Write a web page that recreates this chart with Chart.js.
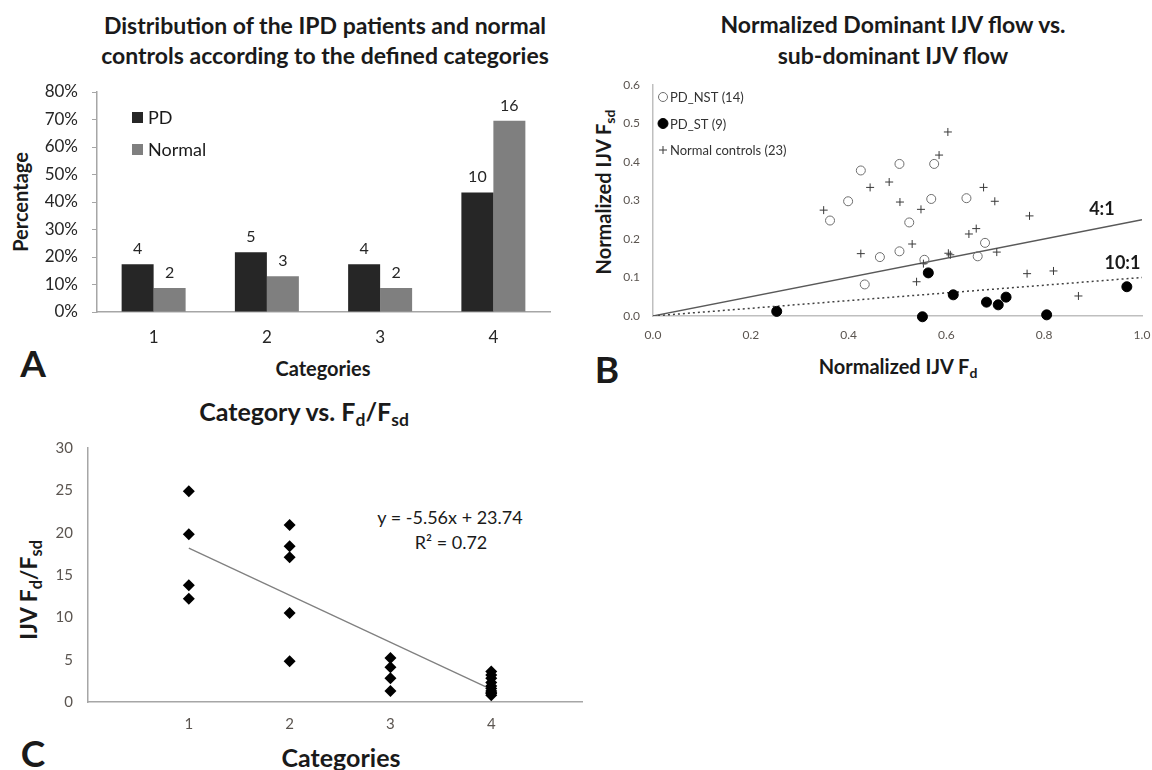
<!DOCTYPE html>
<html>
<head>
<meta charset="utf-8">
<script src="https://cdn.jsdelivr.net/npm/chart.js@4.4.1/dist/chart.umd.min.js"></script>
<style>
  body { margin: 0; background: #fff; width: 1152px; height: 770px; position: relative; overflow: hidden; font-family: Lato, sans-serif; color: #1a1a1a; }
  canvas { position: absolute; }
  .t { position: absolute; transform: translate(-50%, -50%); white-space: nowrap; line-height: 1; }
  .r { transform: translate(-50%, -50%) rotate(-90deg); }
  .b { font-weight: bold; }
  sub { font-size: 0.7em; vertical-align: -0.32em; line-height: 0; }
</style>
</head>
<body>

<!-- panel A -->
<div class="t b" style="left:325px;top:25px;font-size:23px">Distribution of the IPD patients and normal</div>
<div class="t b" style="left:325px;top:55px;font-size:23px">controls according to the defined categories</div>
<div class="t b r" style="left:20px;top:202px;font-size:20px">Percentage</div>
<div class="t b" style="left:323px;top:368px;font-size:20px">Categories</div>
<div class="t b" style="left:33px;top:362px;font-size:37px">A</div>
<canvas id="chartA" width="580" height="280" style="left:0;top:80px"></canvas>

<!-- panel B -->
<div class="t b" style="left:893px;top:24px;font-size:23px">Normalized Dominant IJV flow vs.</div>
<div class="t b" style="left:893px;top:55px;font-size:23px">sub-dominant IJV flow</div>
<div class="t b r" style="left:603px;top:192px;font-size:20px">Normalized IJV F<sub>sd</sub></div>
<div class="t b" style="left:898px;top:366px;font-size:20px">Normalized IJV F<sub>d</sub></div>
<div class="t b" style="left:607px;top:368px;font-size:37px">B</div>
<canvas id="chartB" width="562" height="300" style="left:590px;top:70px"></canvas>

<!-- panel C -->
<div class="t b" style="left:304px;top:411px;font-size:25px">Category vs. F<sub>d</sub>/F<sub>sd</sub></div>
<div class="t b r" style="left:28px;top:590px;font-size:23px">IJV F<sub>d</sub>/F<sub>sd</sub></div>
<div class="t b" style="left:341px;top:757px;font-size:25px">Categories</div>
<div class="t b" style="left:33px;top:752px;font-size:37px">C</div>
<div class="t" id="trendEq" style="left:450px;top:517px;font-size:18px"></div>
<div class="t" id="trendR2" style="left:451px;top:542px;font-size:18px"></div>
<canvas id="chartC" width="620" height="310" style="left:0;top:430px"></canvas>

<script>
// --- A: patients per category (counts shown over bars, bars in percent of group)
const categories = ["1", "2", "3", "4"];
const pdCounts = [4, 5, 4, 10];
const normalCounts = [2, 3, 2, 16];
const pdTotal = 23;
const normalTotal = 23;

// --- B: normalized dominant vs sub-dominant flow
const nstX = [0.425, 0.504, 0.575, 0.399, 0.362, 0.569, 0.641, 0.524, 0.679, 0.464, 0.504, 0.555, 0.664, 0.433];
const nstY = [0.378, 0.395, 0.395, 0.298, 0.248, 0.304, 0.306, 0.243, 0.190, 0.153, 0.168, 0.146, 0.155, 0.082];
const stX = [0.253, 0.551, 0.563, 0.614, 0.682, 0.706, 0.722, 0.805, 0.969];
const stY = [0.012, -0.002, 0.112, 0.055, 0.036, 0.029, 0.049, 0.003, 0.076];
const ctlX = [0.603, 0.585, 0.444, 0.483, 0.505, 0.349, 0.548, 0.676, 0.699, 0.770, 0.646, 0.661, 0.530, 0.425, 0.604, 0.608, 0.703, 0.553, 0.539, 0.765, 0.819, 0.870];
const ctlY = [0.478, 0.418, 0.334, 0.348, 0.296, 0.275, 0.277, 0.334, 0.298, 0.260, 0.213, 0.227, 0.187, 0.162, 0.163, 0.159, 0.166, 0.136, 0.089, 0.110, 0.117, 0.052];
const ratios = [4, 10]; // Fd:Fsd reference lines

// --- C: Fd/Fsd per category with linear fit
const catX = [1, 1, 1, 1, 2, 2, 2, 2, 2, 3, 3, 3, 3, 4, 4, 4, 4, 4, 4, 4, 4, 4, 4];
const ratioY = [24.9, 19.8, 13.8, 12.2, 20.9, 18.4, 17.1, 10.5, 4.8, 5.2, 4.1, 2.8, 1.3, 3.6, 3.2, 2.8, 2.3, 1.9, 1.6, 1.3, 1.1, 1.0, 0.8];
const trendSlope = -5.56;
const trendIntercept = 23.74;
const trendR2 = 0.72;
const trendRange = [1, 4];

const FONT = "Lato";
const zip = (xs, ys) => xs.map((x, i) => ({ x: x, y: ys[i] }));

// fixed axis box sizes, no label overflow padding
const fixW = w => s => { s.width = w; s.paddingTop = 0; s.paddingBottom = 0; };
const fixH = h => s => { s.height = h; s.paddingLeft = 0; s.paddingRight = 0; };

// ---------------- chart A ----------------
const countLabels = {
  id: "countLabels",
  afterDatasetsDraw(chart) {
    const ctx = chart.ctx;
    ctx.save();
    ctx.font = "16px " + FONT;
    ctx.fillStyle = "#262626";
    ctx.textAlign = "center";
    ctx.textBaseline = "alphabetic";
    chart.data.datasets.forEach((ds, i) => {
      chart.getDatasetMeta(i).data.forEach((bar, j) => {
        ctx.fillText(ds.counts[j], bar.x, bar.y - 10);
      });
    });
    ctx.restore();
  }
};

const boxLegend = {
  id: "boxLegend",
  afterDraw(chart) {
    const ctx = chart.ctx;
    const a = chart.chartArea;
    ctx.save();
    ctx.font = "18px " + FONT;
    ctx.textBaseline = "middle";
    chart.data.datasets.forEach((ds, i) => {
      const y = a.top + 20 + i * 32;
      ctx.fillStyle = ds.backgroundColor;
      ctx.fillRect(a.left + 35, y, 11, 11);
      ctx.fillStyle = "#1a1a1a";
      ctx.fillText(ds.label, a.left + 51, y + 6);
    });
    ctx.restore();
  }
};

new Chart(document.getElementById("chartA"), {
  type: "bar",
  data: {
    labels: categories,
    datasets: [
      { label: "PD", data: pdCounts.map(c => c / pdTotal * 100), counts: pdCounts, backgroundColor: "#262626" },
      { label: "Normal", data: normalCounts.map(c => c / normalTotal * 100), counts: normalCounts, backgroundColor: "#7f7f7f" }
    ]
  },
  options: {
    responsive: false,
    animation: false,
    events: [],
    layout: { padding: { top: 12, right: 30, left: 0, bottom: 0 } },
    datasets: { bar: { categoryPercentage: 0.565, barPercentage: 1 } },
    plugins: { legend: { display: false }, tooltip: { enabled: false } },
    scales: {
      x: {
        grid: { display: false, drawTicks: false },
        border: { color: "#a6a6a6", width: 1.5 },
        ticks: { padding: 15, color: "#262626", font: { family: FONT, size: 17 } },
        afterFit: fixH(48)
      },
      y: {
        min: 0, max: 80,
        grid: { drawOnChartArea: false, tickLength: 5, color: "#a6a6a6" },
        border: { color: "#a6a6a6", width: 1.5 },
        ticks: { stepSize: 10, padding: 14, color: "#262626", font: { family: FONT, size: 17 }, callback: v => v + "%" },
        afterFit: fixW(97)
      }
    }
  },
  plugins: [countLabels, boxLegend]
});

// ---------------- chart B ----------------
const markerLegend = {
  id: "markerLegend",
  afterDraw(chart) {
    const ctx = chart.ctx;
    const a = chart.chartArea;
    ctx.save();
    ctx.font = "13px " + FONT;
    ctx.textBaseline = "middle";
    const x = a.left + 10;
    [0, 1, 2].forEach(i => {
      const ds = chart.data.datasets[i];
      const y = a.top + 12 + i * 26.5;
      ctx.lineWidth = 1;
      ctx.strokeStyle = ds.borderColor;
      ctx.fillStyle = ds.backgroundColor;
      ctx.beginPath();
      if (ds.pointStyle === "cross") {
        ctx.moveTo(x - 4, y); ctx.lineTo(x + 4, y);
        ctx.moveTo(x, y - 4); ctx.lineTo(x, y + 4);
        ctx.stroke();
      } else {
        ctx.arc(x, y, ds.pointRadius, 0, Math.PI * 2);
        ctx.fill();
        ctx.stroke();
      }
      ctx.fillStyle = "#333";
      ctx.fillText(ds.label, x + 7, y + 1);
    });
    ctx.restore();
  }
};

const ratioTags = {
  id: "ratioTags",
  afterDraw(chart) {
    const ctx = chart.ctx;
    const xs = chart.scales.x, ys = chart.scales.y;
    const spots = [[0.918, 0.278], [0.96, 0.136]];
    ctx.save();
    ctx.font = "bold 18px " + FONT;
    ctx.fillStyle = "#1a1a1a";
    ctx.textAlign = "center";
    ctx.textBaseline = "middle";
    ratios.forEach((r, i) => {
      ctx.fillText(r + ":1", xs.getPixelForValue(spots[i][0]), ys.getPixelForValue(spots[i][1]));
    });
    ctx.restore();
  }
};

new Chart(document.getElementById("chartB"), {
  type: "scatter",
  data: {
    datasets: [
      { label: "PD_NST (14)", data: zip(nstX, nstY), pointStyle: "circle", pointRadius: 4.5, borderWidth: 1, borderColor: "#6e6e6e", backgroundColor: "rgba(255,255,255,0)", clip: false },
      { label: "PD_ST (9)", data: zip(stX, stY), pointStyle: "circle", pointRadius: 5, borderWidth: 1, borderColor: "#000", backgroundColor: "#000", clip: false },
      { label: "Normal controls (23)", data: zip(ctlX, ctlY), pointStyle: "cross", pointRadius: 4, borderWidth: 1, borderColor: "#3a3a3a", backgroundColor: "#3a3a3a", clip: false },
      { type: "line", label: ratios[0] + ":1", data: [{ x: 0, y: 0 }, { x: 1, y: 1 / ratios[0] }], borderColor: "#595959", borderWidth: 1.3, pointRadius: 0 },
      { type: "line", label: ratios[1] + ":1", data: [{ x: 0, y: 0 }, { x: 1, y: 1 / ratios[1] }], borderColor: "#404040", borderWidth: 1.5, borderDash: [2, 3], pointRadius: 0 }
    ]
  },
  options: {
    responsive: false,
    animation: false,
    events: [],
    layout: { padding: { top: 15, right: 10, left: 0, bottom: 0 } },
    plugins: { legend: { display: false }, tooltip: { enabled: false } },
    scales: {
      x: {
        type: "linear", min: 0, max: 1,
        grid: { display: false, drawTicks: false },
        border: { color: "#bfbfbf", width: 1.5 },
        ticks: { stepSize: 0.2, padding: 12, color: "#5b5550", font: { family: FONT, size: 12 }, callback: v => v.toFixed(1) },
        afterFit: fixH(54)
      },
      y: {
        min: 0, max: 0.6,
        grid: { display: false, drawTicks: false },
        border: { color: "#bfbfbf", width: 1.5 },
        ticks: { stepSize: 0.1, padding: 13, color: "#5b5550", font: { family: FONT, size: 12 }, callback: v => v.toFixed(1) },
        afterFit: fixW(63)
      }
    }
  },
  plugins: [markerLegend, ratioTags]
});

// ---------------- chart C ----------------
document.getElementById("trendEq").textContent =
  "y = " + trendSlope.toFixed(2) + "x + " + trendIntercept.toFixed(2);
document.getElementById("trendR2").textContent = "R\u00B2 = " + trendR2.toFixed(2);

new Chart(document.getElementById("chartC"), {
  type: "scatter",
  data: {
    datasets: [
      { label: "Fd/Fsd", data: zip(catX, ratioY), pointStyle: "rectRot", pointRadius: 6, borderWidth: 0, backgroundColor: "#000", borderColor: "#000", clip: false },
      { type: "line", label: "Linear fit", data: trendRange.map(x => ({ x: x, y: trendSlope * x + trendIntercept })), borderColor: "#808080", borderWidth: 1.3, pointRadius: 0 }
    ]
  },
  options: {
    responsive: false,
    animation: false,
    events: [],
    layout: { padding: { top: 18, right: 38, left: 0, bottom: 0 } },
    plugins: { legend: { display: false }, tooltip: { enabled: false } },
    scales: {
      x: {
        type: "linear", min: 0, max: 4.9,
        grid: { display: false, drawTicks: false },
        border: { color: "#a6a6a6", width: 1.5 },
        ticks: { stepSize: 1, includeBounds: false, padding: 13, color: "#5b5550", font: { family: FONT, size: 15 },
          callback: v => (v >= 1 && v <= 4) ? String(v) : "" },
        afterFit: fixH(38)
      },
      y: {
        min: 0, max: 30,
        grid: { display: false, drawTicks: false },
        border: { color: "#a6a6a6", width: 1.5 },
        ticks: { stepSize: 5, padding: 15, color: "#5b5550", font: { family: FONT, size: 15 } },
        afterFit: fixW(88)
      }
    }
  }
});
</script>
</body>
</html>
